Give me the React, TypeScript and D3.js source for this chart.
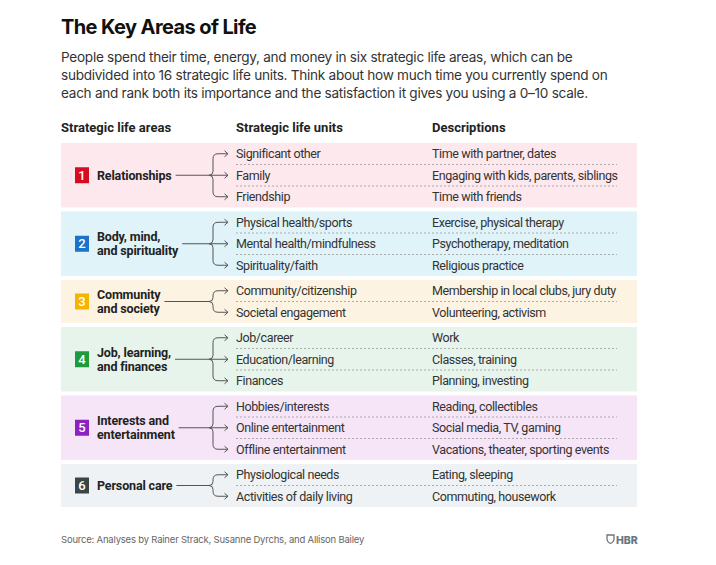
import React, { useEffect, useRef } from "react";
import * as d3 from "d3";

const title = "The Key Areas of Life";
const subtitleLines = [
  "People spend their time, energy, and money in six strategic life areas, which can be",
  "subdivided into 16 strategic life units. Think about how much time you currently spend on",
  "each and rank both its importance and the satisfaction it gives you using a 0–10 scale.",
];
const headers = ["Strategic life areas", "Strategic life units", "Descriptions"];
const areaNumbers = ["1", "2", "3", "4", "5", "6"];
const areaLines = [
  ["Relationships"],
  ["Body, mind,", "and spirituality"],
  ["Community", "and society"],
  ["Job, learning,", "and finances"],
  ["Interests and", "entertainment"],
  ["Personal care"],
];
const units = [
  ["Significant other", "Family", "Friendship"],
  ["Physical health/sports", "Mental health/mindfulness", "Spirituality/faith"],
  ["Community/citizenship", "Societal engagement"],
  ["Job/career", "Education/learning", "Finances"],
  ["Hobbies/interests", "Online entertainment", "Offline entertainment"],
  ["Physiological needs", "Activities of daily living"],
];
const descriptions = [
  ["Time with partner, dates", "Engaging with kids, parents, siblings", "Time with friends"],
  ["Exercise, physical therapy", "Psychotherapy, meditation", "Religious practice"],
  ["Membership in local clubs, jury duty", "Volunteering, activism"],
  ["Work", "Classes, training", "Planning, investing"],
  ["Reading, collectibles", "Social media, TV, gaming", "Vacations, theater, sporting events"],
  ["Eating, sleeping", "Commuting, housework"],
];
const areaColors = ["#d70c23", "#1b74c8", "#f6b300", "#1e9b3c", "#8c22bf", "#3a4646"];
const bandColors = ["#fde8ed", "#dff3f9", "#fdf3e2", "#e7f4ec", "#f5e5f7", "#eef2f4"];
const source = "Source: Analyses by Rainer Strack, Susanne Dyrchs, and Allison Bailey";

const W = 716;
const H = 565;
const TABLE_FONT = "Roboto, 'Noto Sans', sans-serif";
const HEAD_FONT = "Inter, 'Noto Sans', sans-serif";

export default function App() {
  const ref = useRef<SVGSVGElement | null>(null);

  useEffect(() => {
    const svg = d3.select(ref.current);
    svg.selectAll("*").remove();

    const left = 61;
    const right = 637;
    const rowH = 21.5;
    const gap = 4;
    const top0 = 143;

    const cum: number[] = [];
    let acc = 0;
    units.forEach((u) => {
      cum.push(acc);
      acc += u.length;
    });
    const yRow = d3
      .scaleLinear()
      .domain([0, 1])
      .range([top0, top0 + rowH]);
    const groupTop = (g: number) => yRow(cum[g]) + g * gap;

    svg
      .append("text")
      .attr("x", left)
      .attr("y", 34)
      .attr("font-family", HEAD_FONT)
      .attr("font-weight", 700)
      .attr("font-size", 20)
      .attr("letter-spacing", -0.6)
      .attr("fill", "#111")
      .text(title);

    subtitleLines.forEach((s, i) => {
      svg
        .append("text")
        .attr("x", left)
        .attr("y", 62 + i * 18)
        .attr("font-family", HEAD_FONT)
        .attr("font-size", 13.6)
        .attr("letter-spacing", -0.28)
        .attr("fill", "#333")
        .text(s);
    });

    const colX = [left, 236, 432];
    headers.forEach((h, i) => {
      svg
        .append("text")
        .attr("x", colX[i])
        .attr("y", 132)
        .attr("font-family", TABLE_FONT)
        .attr("font-weight", 700)
        .attr("font-size", 13)
        .attr("fill", "#222")
        .text(h);
    });

    const xTip = 209;
    const xV = 213;
    const xArrow = 228;
    const r = 5;

    units.forEach((u, g) => {
      const gt = groupTop(g);
      const gh = u.length * rowH;
      const mid = gt + gh / 2;
      const grp = svg.append("g");

      grp
        .append("rect")
        .attr("x", left)
        .attr("y", gt)
        .attr("width", right - left)
        .attr("height", gh)
        .attr("fill", bandColors[g]);

      grp
        .append("rect")
        .attr("x", 75)
        .attr("y", mid - 8)
        .attr("width", 14)
        .attr("height", 16)
        .attr("fill", areaColors[g]);
      grp
        .append("text")
        .attr("x", 82)
        .attr("y", mid + 4.5)
        .attr("text-anchor", "middle")
        .attr("font-family", TABLE_FONT)
        .attr("font-size", 13)
        .attr("font-weight", 500)
        .attr("fill", "#fff")
        .text(areaNumbers[g]);

      const lines = areaLines[g];
      let maxW = 0;
      lines.forEach((ln, i) => {
        const t = grp
          .append("text")
          .attr("x", 97)
          .attr("y", mid + 4.5 + (i - (lines.length - 1) / 2) * 14)
          .attr("font-family", TABLE_FONT)
          .attr("font-weight", 700)
          .attr("font-size", 12.5)
          .attr("letter-spacing", -0.15)
          .attr("fill", "#222")
          .text(ln);
        const node = t.node() as SVGTextElement;
        maxW = Math.max(maxW, node.getComputedTextLength());
      });

      const lineStart = 97 + maxW + 4;
      grp
        .append("line")
        .attr("x1", lineStart)
        .attr("x2", xTip)
        .attr("y1", mid)
        .attr("y2", mid)
        .attr("stroke", "#555")
        .attr("stroke-width", 1);

      u.forEach((unit, i) => {
        const ry = gt + (i + 0.5) * rowH;
        let p: string;
        if (Math.abs(ry - mid) < 0.5) {
          p = `M${xTip},${mid} L${xArrow},${mid}`;
        } else {
          const s = ry < mid ? -1 : 1;
          p = `M${xTip},${mid} Q${xV},${mid} ${xV},${mid + s * 4} L${xV},${ry - s * r} Q${xV},${ry} ${xV + r},${ry} L${xArrow},${ry}`;
        }
        grp
          .append("path")
          .attr("d", p)
          .attr("fill", "none")
          .attr("stroke", "#555")
          .attr("stroke-width", 1);
        grp
          .append("path")
          .attr("d", `M${xArrow - 3.5},${ry - 3} L${xArrow},${ry} L${xArrow - 3.5},${ry + 3}`)
          .attr("fill", "none")
          .attr("stroke", "#555")
          .attr("stroke-width", 1);

        grp
          .append("text")
          .attr("x", 236)
          .attr("y", ry + 4.5)
          .attr("font-family", TABLE_FONT)
          .attr("font-size", 12.5)
          .attr("letter-spacing", -0.4)
          .attr("fill", "#333")
          .text(unit);
        grp
          .append("text")
          .attr("x", 432)
          .attr("y", ry + 4.5)
          .attr("font-family", TABLE_FONT)
          .attr("font-size", 12.5)
          .attr("letter-spacing", -0.4)
          .attr("fill", "#333")
          .text(descriptions[g][i]);

        if (i > 0) {
          const sy = gt + i * rowH;
          grp
            .append("line")
            .attr("x1", 236)
            .attr("x2", 617)
            .attr("y1", sy)
            .attr("y2", sy)
            .attr("stroke", "#999")
            .attr("stroke-width", 0.8)
            .attr("stroke-dasharray", "2,2");
        }
      });
    });

    svg
      .append("text")
      .attr("x", left)
      .attr("y", 543)
      .attr("font-family", HEAD_FONT)
      .attr("font-size", 9.5)
      .attr("letter-spacing", -0.2)
      .attr("fill", "#666")
      .text(source);

    const logo = svg.append("g").attr("transform", "translate(607,535)");
    logo
      .append("path")
      .attr("d", "M0,0 L7,0 L7,3.5 Q7,7 3.5,8.5 Q0,7 0,3.5 Z")
      .attr("fill", "none")
      .attr("stroke", "#6b7580")
      .attr("stroke-width", 1.3);
    logo
      .append("text")
      .attr("x", 9)
      .attr("y", 8.5)
      .attr("font-family", HEAD_FONT)
      .attr("font-weight", 800)
      .attr("font-size", 10.5)
      .attr("fill", "#6b7580")
      .text("HBR");
  }, []);

  return (
    <svg
      ref={ref}
      width={W}
      height={H}
      style={{ display: "block", position: "absolute", left: 0, top: 0, background: "#fff" }}
    />
  );
}
